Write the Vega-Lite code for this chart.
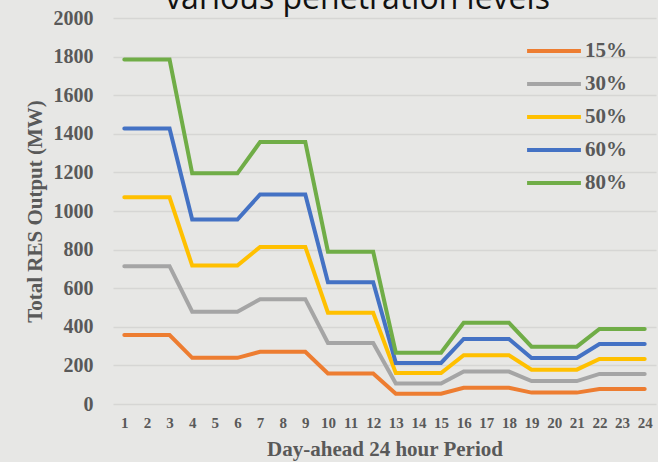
{
  "$schema": "https://vega.github.io/schema/vega-lite/v6.json",
  "autosize": "none",
  "width": 543,
  "height": 386,
  "padding": {"left": 113, "top": 18, "right": 2, "bottom": 58},
  "background": "#e7e7e5",
  "title": {
    "text": "various penetration levels",
    "font": "Open Sans",
    "fontSize": 32,
    "fontWeight": "normal",
    "color": "#111111",
    "anchor": "middle",
    "baseline": "alphabetic",
    "offset": 0,
    "dx": -27,
    "dy": 33
  },
  "data": {
    "values": [
      {"h":1,"level":"15%","mw":357},{"h":1,"level":"30%","mw":714},{"h":1,"level":"50%","mw":1071},{"h":1,"level":"60%","mw":1428},{"h":1,"level":"80%","mw":1785},
      {"h":2,"level":"15%","mw":357},{"h":2,"level":"30%","mw":714},{"h":2,"level":"50%","mw":1071},{"h":2,"level":"60%","mw":1428},{"h":2,"level":"80%","mw":1785},
      {"h":3,"level":"15%","mw":357},{"h":3,"level":"30%","mw":714},{"h":3,"level":"50%","mw":1071},{"h":3,"level":"60%","mw":1428},{"h":3,"level":"80%","mw":1785},
      {"h":4,"level":"15%","mw":239},{"h":4,"level":"30%","mw":478},{"h":4,"level":"50%","mw":717},{"h":4,"level":"60%","mw":956},{"h":4,"level":"80%","mw":1195},
      {"h":5,"level":"15%","mw":239},{"h":5,"level":"30%","mw":478},{"h":5,"level":"50%","mw":717},{"h":5,"level":"60%","mw":956},{"h":5,"level":"80%","mw":1195},
      {"h":6,"level":"15%","mw":239},{"h":6,"level":"30%","mw":478},{"h":6,"level":"50%","mw":717},{"h":6,"level":"60%","mw":956},{"h":6,"level":"80%","mw":1195},
      {"h":7,"level":"15%","mw":271},{"h":7,"level":"30%","mw":543},{"h":7,"level":"50%","mw":814},{"h":7,"level":"60%","mw":1086},{"h":7,"level":"80%","mw":1357},
      {"h":8,"level":"15%","mw":271},{"h":8,"level":"30%","mw":543},{"h":8,"level":"50%","mw":814},{"h":8,"level":"60%","mw":1086},{"h":8,"level":"80%","mw":1357},
      {"h":9,"level":"15%","mw":271},{"h":9,"level":"30%","mw":543},{"h":9,"level":"50%","mw":814},{"h":9,"level":"60%","mw":1086},{"h":9,"level":"80%","mw":1357},
      {"h":10,"level":"15%","mw":158},{"h":10,"level":"30%","mw":316},{"h":10,"level":"50%","mw":473},{"h":10,"level":"60%","mw":631},{"h":10,"level":"80%","mw":789},
      {"h":11,"level":"15%","mw":158},{"h":11,"level":"30%","mw":316},{"h":11,"level":"50%","mw":473},{"h":11,"level":"60%","mw":631},{"h":11,"level":"80%","mw":789},
      {"h":12,"level":"15%","mw":158},{"h":12,"level":"30%","mw":316},{"h":12,"level":"50%","mw":473},{"h":12,"level":"60%","mw":631},{"h":12,"level":"80%","mw":789},
      {"h":13,"level":"15%","mw":53},{"h":13,"level":"30%","mw":106},{"h":13,"level":"50%","mw":160},{"h":13,"level":"60%","mw":213},{"h":13,"level":"80%","mw":266},
      {"h":14,"level":"15%","mw":53},{"h":14,"level":"30%","mw":106},{"h":14,"level":"50%","mw":160},{"h":14,"level":"60%","mw":213},{"h":14,"level":"80%","mw":266},
      {"h":15,"level":"15%","mw":53},{"h":15,"level":"30%","mw":106},{"h":15,"level":"50%","mw":160},{"h":15,"level":"60%","mw":213},{"h":15,"level":"80%","mw":266},
      {"h":16,"level":"15%","mw":84},{"h":16,"level":"30%","mw":168},{"h":16,"level":"50%","mw":253},{"h":16,"level":"60%","mw":337},{"h":16,"level":"80%","mw":421},
      {"h":17,"level":"15%","mw":84},{"h":17,"level":"30%","mw":168},{"h":17,"level":"50%","mw":253},{"h":17,"level":"60%","mw":337},{"h":17,"level":"80%","mw":421},
      {"h":18,"level":"15%","mw":84},{"h":18,"level":"30%","mw":168},{"h":18,"level":"50%","mw":253},{"h":18,"level":"60%","mw":337},{"h":18,"level":"80%","mw":421},
      {"h":19,"level":"15%","mw":59},{"h":19,"level":"30%","mw":119},{"h":19,"level":"50%","mw":178},{"h":19,"level":"60%","mw":238},{"h":19,"level":"80%","mw":297},
      {"h":20,"level":"15%","mw":59},{"h":20,"level":"30%","mw":119},{"h":20,"level":"50%","mw":178},{"h":20,"level":"60%","mw":238},{"h":20,"level":"80%","mw":297},
      {"h":21,"level":"15%","mw":59},{"h":21,"level":"30%","mw":119},{"h":21,"level":"50%","mw":178},{"h":21,"level":"60%","mw":238},{"h":21,"level":"80%","mw":297},
      {"h":22,"level":"15%","mw":78},{"h":22,"level":"30%","mw":156},{"h":22,"level":"50%","mw":233},{"h":22,"level":"60%","mw":311},{"h":22,"level":"80%","mw":389},
      {"h":23,"level":"15%","mw":78},{"h":23,"level":"30%","mw":156},{"h":23,"level":"50%","mw":233},{"h":23,"level":"60%","mw":311},{"h":23,"level":"80%","mw":389},
      {"h":24,"level":"15%","mw":78},{"h":24,"level":"30%","mw":156},{"h":24,"level":"50%","mw":233},{"h":24,"level":"60%","mw":311},{"h":24,"level":"80%","mw":389}
    ]
  },
  "mark": {"type": "line", "strokeWidth": 4, "strokeCap": "round"},
  "encoding": {
    "x": {
      "field": "h",
      "type": "quantitative",
      "scale": {"domain": [0.5, 24.5], "nice": false, "zero": false},
      "axis": {
        "title": "Day-ahead 24 hour Period",
        "values": [1,2,3,4,5,6,7,8,9,10,11,12,13,14,15,16,17,18,19,20,21,22,23,24],
        "grid": false,
        "ticks": false,
        "domain": false,
        "labelFont": "Liberation Serif",
        "labelFontWeight": "bold",
        "labelFontSize": 15,
        "labelColor": "#595959",
        "labelPadding": 11,
        "labelFlush": false,
        "titleFont": "Liberation Serif",
        "titleFontWeight": "bold",
        "titleFontSize": 21,
        "titleColor": "#595959",
        "titlePadding": 8
      }
    },
    "y": {
      "field": "mw",
      "type": "quantitative",
      "scale": {"domain": [0, 2000], "nice": false},
      "axis": {
        "title": "Total RES Output (MW)",
        "values": [0,200,400,600,800,1000,1200,1400,1600,1800,2000],
        "format": "d",
        "grid": true,
        "gridColor": "#d6d6d4",
        "gridWidth": 1.5,
        "ticks": false,
        "domain": false,
        "labelFont": "Liberation Serif",
        "labelFontWeight": "bold",
        "labelFontSize": 20,
        "labelColor": "#595959",
        "labelPadding": 20,
        "titleFont": "Liberation Serif",
        "titleFontWeight": "bold",
        "titleFontSize": 21,
        "titleColor": "#595959",
        "titlePadding": 8
      }
    },
    "color": {
      "field": "level",
      "type": "nominal",
      "scale": {
        "domain": ["15%", "30%", "50%", "60%", "80%"],
        "range": ["#ED7D31", "#A5A5A5", "#FFC000", "#4472C4", "#70AD47"]
      },
      "legend": {
        "title": null,
        "orient": "none",
        "legendX": 412,
        "legendY": 23,
        "symbolType": "stroke",
        "symbolSize": 2900,
        "symbolStrokeWidth": 4,
        "clipHeight": 20,
        "rowPadding": 12,
        "labelOffset": 2,
        "labelFont": "Liberation Serif",
        "labelFontWeight": "bold",
        "labelFontSize": 21,
        "labelColor": "#595959"
      }
    }
  },
  "config": {"view": {"stroke": null}}
}
